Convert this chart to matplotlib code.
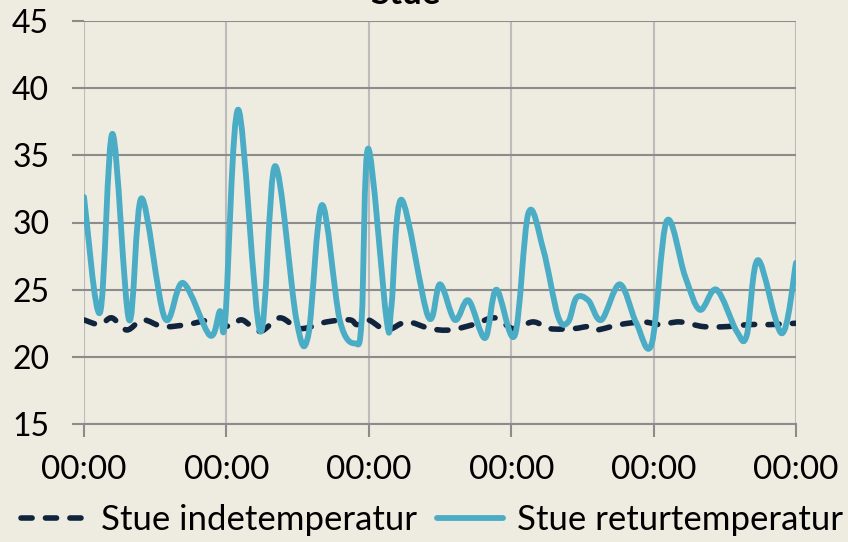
import matplotlib.pyplot as plt
from matplotlib.lines import Line2D
from matplotlib.path import Path
from matplotlib.patches import PathPatch

# hours since start of the period
hours_ret = [0, 2.7, 4.8, 7.6, 9.7, 13.6, 16.7, 21.2, 22.9, 23.8,
             26.0, 29.7, 32.2, 35.8, 37.8, 40.1, 43.1, 45.7, 46.8, 47.9,
             51.0, 51.8, 53.5, 58.0, 60.0, 62.5, 64.8, 67.6, 69.5, 72.6,
             74.9, 77.4, 79.9, 81.6, 83.0, 85.0, 87.2, 90.3, 93.1, 95.7,
             98.2, 101.3, 103.8, 106.6, 110.0, 111.7, 113.6, 117.6, 120]
retur = [31.9, 23.3, 36.6, 22.75, 31.8, 22.9, 25.5, 21.6, 23.4, 22.75,
         38.4, 21.9, 34.2, 22.75, 21.6, 31.3, 22.75, 21.0, 22.75, 35.5,
         22.75, 23.7, 31.7, 23.0, 25.4, 22.75, 24.2, 21.4, 25.0, 21.6,
         30.7, 28.0, 23.0, 22.6, 24.4, 24.2, 22.75, 25.4, 22.5, 21.0,
         30.1, 26.0, 23.5, 25.0, 21.9, 21.6, 27.2, 21.75, 27.0]

hours_inde = [0, 2.7, 4.7, 7.2, 9.9, 13.3, 17.3, 21.7, 24.6, 26.6,
              29.7, 33.0, 36.4, 40.9, 44.8, 46.0, 47.9, 51.0, 54.4, 58.3,
              61.7, 65.6, 69.3, 72.3, 75.7, 78.5, 82.5, 85.0, 86.4, 90.3,
              94.2, 97.1, 100.4, 104.4, 108.3, 112.2, 115.6, 120]
inde = [22.75, 22.4, 22.9, 22.0, 22.75, 22.25, 22.4, 22.75, 22.25, 22.75,
        21.9, 22.9, 22.1, 22.6, 22.75, 22.4, 22.75, 22.0, 22.6, 22.1,
        22.0, 22.4, 22.9, 22.1, 22.6, 22.1, 22.1, 22.25, 22.0, 22.4,
        22.6, 22.4, 22.6, 22.25, 22.25, 22.4, 22.4, 22.5]

day_ticks = [0, 24, 48, 72, 96, 120]
day_labels = ['00:00'] * 6
y_ticks = [15, 20, 25, 30, 35, 40, 45]

bg = '#eeebe0'
blue = '#4bacc6'
navy = '#10243e'
dash = (0, (2.0, 2.4))


def smooth_line(ax, x, y, **kw):
    # smoothed line through the points, cubic bezier segments
    n = len(x)
    verts = [(x[0], y[0])]
    codes = [Path.MOVETO]
    for i in range(n - 1):
        x0, y0 = (x[i - 1], y[i - 1]) if i > 0 else (x[i], y[i])
        x3, y3 = (x[i + 2], y[i + 2]) if i + 2 < n else (x[i + 1], y[i + 1])
        c1 = (x[i] + (x[i + 1] - x0) / 6, y[i] + (y[i + 1] - y0) / 6)
        c2 = (x[i + 1] - (x3 - x[i]) / 6, y[i + 1] - (y3 - y[i]) / 6)
        verts += [c1, c2, (x[i + 1], y[i + 1])]
        codes += [Path.CURVE4] * 3
    patch = PathPatch(Path(verts, codes), fill=False, joinstyle='round',
                      capstyle='round', **kw)
    ax.add_patch(patch)
    return patch


plt.rcParams['font.family'] = ['Lato', 'DejaVu Sans']

fig = plt.figure(figsize=(8.48, 5.42), dpi=100, facecolor=bg)
ax = fig.add_axes([84 / 848, 118 / 542, 712 / 848, 403 / 542])
ax.set_facecolor(bg)

smooth_line(ax, hours_inde, inde, edgecolor=navy, lw=4.0, ls=dash, zorder=3)
smooth_line(ax, hours_ret, retur, edgecolor=blue, lw=4.2, zorder=4)

ax.set_xlim(0, 120)
ax.set_ylim(15, 45)
ax.set_xticks(day_ticks)
ax.set_xticklabels(day_labels)
ax.set_yticks(y_ticks)

ax.grid(axis='y', color='#8c8c8c', lw=1.5)
ax.grid(axis='x', color='#bcbcbc', lw=1.5)
ax.set_axisbelow(True)
for side in ['top', 'right', 'left']:
    ax.spines[side].set_visible(False)
ax.spines['bottom'].set_color('#8c8c8c')
ax.spines['bottom'].set_linewidth(1.5)

ax.tick_params(axis='y', length=9, width=1.5, color='#8c8c8c', pad=16,
               labelsize=23)
ax.tick_params(axis='x', length=9, width=1.5, color='#8c8c8c', pad=13,
               labelsize=24)

fig.text(405 / 848, 538 / 542, 'Stue', ha='center', va='baseline',
         fontsize=25, fontweight='bold')

handles = [Line2D([], [], color=navy, lw=4.0, ls=dash, dash_capstyle='round'),
           Line2D([], [], color=blue, lw=4.2, solid_capstyle='round')]
fig.legend(handles, ['Stue indetemperatur', 'Stue returtemperatur'],
           loc='center', bbox_to_anchor=(432 / 848, 22 / 542), ncol=2,
           frameon=False, fontsize=25, handlelength=1.9, handletextpad=0.4,
           columnspacing=0.6)

fig.savefig('out.png', dpi=100, facecolor=bg)
